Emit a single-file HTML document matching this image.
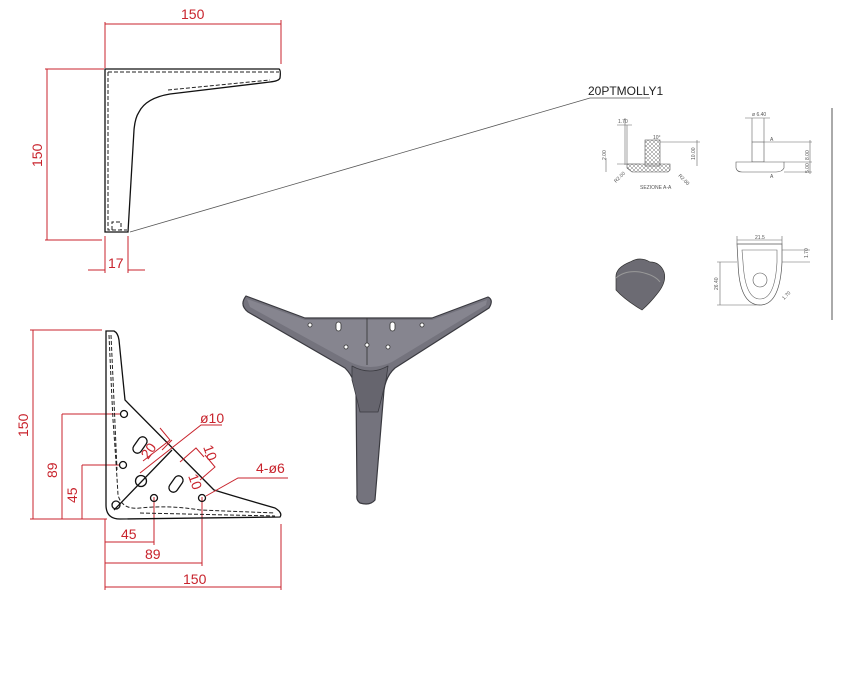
<!DOCTYPE html>
<html><head><meta charset="utf-8"><style>
html,body{margin:0;padding:0;background:#fff;}
svg{display:block;}
.r{stroke:#c8232c;stroke-width:1;fill:none;}
.rt{fill:#c8232c;font-family:"Liberation Sans",sans-serif;font-size:14px;}
.k{stroke:#111;stroke-width:1.3;fill:none;}
.d{stroke:#222;stroke-width:1;fill:none;stroke-dasharray:4 2;}
.s{font-family:"Liberation Sans",sans-serif;font-size:5px;fill:#555;}
.g{stroke:#666;stroke-width:0.6;fill:none;}
</style></head><body>
<svg width="845" height="678" viewBox="0 0 845 678" xmlns="http://www.w3.org/2000/svg">
<defs>
<pattern id="h" width="4" height="4" patternUnits="userSpaceOnUse"><path d="M0 0L4 4M4 0L0 4" stroke="#777" stroke-width="0.5"/></pattern>
</defs>
<!-- TOP VIEW -->
<g>
<line class="r" x1="105" y1="22" x2="105" y2="68"/>
<line class="r" x1="281" y1="20" x2="281" y2="64"/>
<line class="r" x1="105" y1="24" x2="281" y2="24"/>
<text class="rt" x="181" y="19">150</text>
<line class="r" x1="45" y1="69" x2="104" y2="69"/>
<line class="r" x1="45" y1="240" x2="102" y2="240"/>
<line class="r" x1="47" y1="69" x2="47" y2="240"/>
<text class="rt" transform="translate(42,167) rotate(-90)">150</text>
<line class="r" x1="105" y1="236" x2="105" y2="273"/>
<line class="r" x1="128" y1="236" x2="128" y2="273"/>
<line class="r" x1="88" y1="270" x2="105" y2="270"/>
<line class="r" x1="128" y1="270" x2="145" y2="270"/>
<text class="rt" x="108" y="268">17</text>
<path class="k" d="M105 69 L279 69 Q281 70 280 78 Q279 81 270 82 L170 94 Q146 98 139 112 Q135 118 134 130 L128 232 L105 232 Z"/>
<path class="d" d="M108 72 L279 72 M168 90 L270 80 M108 72 L108 230 L127 230"/>
<path class="d" d="M112 230 L112 222 L121 222 L121 230"/>
</g>
<!-- leader -->
<path d="M130 232 L590 98 L650 98" stroke="#555" stroke-width="0.8" fill="none"/>
<text x="588" y="95" font-family="Liberation Sans,sans-serif" font-size="12" fill="#222">20PTMOLLY1</text>
<!-- BOTTOM VIEW -->
<g>
<line class="r" x1="30" y1="330" x2="102" y2="330"/>
<line class="r" x1="30" y1="519" x2="107" y2="519"/>
<line class="r" x1="33" y1="330" x2="33" y2="519"/>
<text class="rt" transform="translate(28,437) rotate(-90)">150</text>
<line class="r" x1="62" y1="414" x2="120" y2="414"/>
<line class="r" x1="62" y1="414" x2="62" y2="519"/>
<text class="rt" transform="translate(57,478) rotate(-90)">89</text>
<line class="r" x1="82" y1="465" x2="120" y2="465"/>
<line class="r" x1="82" y1="465" x2="82" y2="519"/>
<text class="rt" transform="translate(77,503) rotate(-90)">45</text>
<line class="r" x1="105" y1="519" x2="105" y2="590"/>
<line class="r" x1="154" y1="497" x2="154" y2="545"/>
<line class="r" x1="202" y1="497" x2="202" y2="566"/>
<line class="r" x1="281" y1="524" x2="281" y2="590"/>
<line class="r" x1="105" y1="542" x2="154" y2="542"/>
<line class="r" x1="105" y1="563" x2="202" y2="563"/>
<line class="r" x1="105" y1="587" x2="281" y2="587"/>
<text class="rt" x="121" y="539">45</text>
<text class="rt" x="145" y="559">89</text>
<text class="rt" x="183" y="584">150</text>
<path class="k" d="M106 331 L114 331 Q118 333 119 340 L125 400 L214 490 Q240 498 275 508 Q283 513 280 517 L120 519 Q106 519 106 505 Z"/>
<path class="d" d="M109 335 Q111 380 113 420 Q116 460 118 495 Q122 510 140 508 Q170 505 200 510 L275 513"/>
<path class="d" d="M111 335 Q114 400 117 470 M140 513 L275 516"/>
<circle cx="124" cy="414" r="3.5" class="k"/>
<circle cx="123" cy="465" r="3.5" class="k"/>
<circle cx="141" cy="481" r="5.5" class="k"/>
<circle cx="154" cy="498" r="3.5" class="k"/>
<circle cx="202" cy="498" r="3.5" class="k"/>
<circle cx="116" cy="505" r="4" class="k"/>
<rect x="-9" y="-4.5" width="18" height="9" rx="4.5" class="k" transform="translate(140,445) rotate(-55)"/>
<rect x="-9" y="-4.5" width="18" height="9" rx="4.5" class="k" transform="translate(176,484) rotate(-55)"/>
<path class="k" d="M114 510 L172 450" stroke-width="1"/>
<path class="r" d="M140 473 L201 425 L222 425"/>
<text class="rt" x="200" y="423">ø10</text>
<path class="r" d="M143 461 L170 440 L160 428 M162 450 L172 440"/>
<text class="rt" transform="translate(148,460) rotate(-55)">20</text>
<path class="r" d="M180 462 L196 448 L204 457 M200 480 L215 467 L205 455"/>
<text class="rt" transform="translate(203,447) rotate(70)">10</text>
<text class="rt" transform="translate(188,476) rotate(70)">10</text>
<path class="r" d="M206 496 L238 478 L288 478"/>
<text class="rt" x="256" y="473">4-ø6</text>
</g>
<!-- 3D LEG -->
<g stroke="#3a3a40" stroke-width="1.2" stroke-linejoin="round">
<path fill="#74737d" d="M246 296 L305 318 L432 318 L488 297 Q494 300 489 308 L395 368 Q386 376 384 390 L375 500 Q370 506 360 503 Q356 500 357 495 L356 390 Q354 377 345 368 L248 312 Q239 305 246 296 Z"/>
<path fill="#86858f" d="M247 299 L305 320 L432 320 L487 300 L486 305 L392 362 Q370 372 350 362 L250 307 Z" stroke="none"/>
<path fill="#66656e" d="M352 366 Q370 376 388 366 L386 380 Q380 405 378 412 L360 412 Q356 395 352 380 Z" stroke-width="0.8"/>
</g>
<line x1="367" y1="318" x2="367" y2="365" stroke="#333" stroke-width="0.8"/>
<g fill="#fff" stroke="#333" stroke-width="0.8">
<rect x="336" y="322" width="5" height="9" rx="2.5"/>
<rect x="390" y="322" width="5" height="9" rx="2.5"/>
<circle cx="310" cy="325" r="2"/><circle cx="422" cy="325" r="2"/>
<circle cx="346" cy="347" r="2"/><circle cx="388" cy="347" r="2"/>
<circle cx="367" cy="345" r="2"/>
</g>
<!-- RIGHT PANEL -->
<line x1="832" y1="108" x2="832" y2="320" stroke="#555" stroke-width="1"/>
<g>
<rect x="645" y="140" width="15" height="26" fill="url(#h)" stroke="#555" stroke-width="0.6"/>
<path d="M627 164 L670 164 L670 170 L668 172 L632 172 L627 168 Z" fill="url(#h)" stroke="#555" stroke-width="0.6"/>
<path class="g" d="M625 118 L625 165 M627 125 L627 165 M617 125 L632 125 M660 142 L700 142 M617 164 L640 164 M697 140 L697 166 M606 158 L606 172"/>
<text class="s" x="618" y="123">1.70</text><text class="s" x="640" y="189">SEZIONE A-A</text>
<text class="s" x="653" y="139">10°</text>
<text class="s" transform="translate(606,160) rotate(-90)">2.00</text>
<text class="s" transform="translate(695,160) rotate(-90)">10.00</text>
<text class="s" transform="translate(616,183) rotate(-45)">R2.00</text>
<text class="s" transform="translate(678,176) rotate(45)">R2.00</text>
<rect x="752" y="142" width="12" height="20" fill="#fff" stroke="#555" stroke-width="0.6"/>
<path d="M736 162 L784 162 L784 168 Q782 172 776 172 L742 172 Q737 172 736 168 Z" fill="#fff" stroke="#555" stroke-width="0.6"/>
<path class="g" d="M752 118 L752 142 M764 118 L764 142 M745 118 L770 118 M764 142 L812 142 M784 162 L812 162 M784 172 L812 172 M810 140 L810 174"/>
<text class="s" x="752" y="116">ø 6.40</text>
<text class="s" x="770" y="141">A</text><text class="s" x="770" y="178">A</text>
<text class="s" transform="translate(809,160) rotate(-90)">8.00</text>
<text class="s" transform="translate(809,173) rotate(-90)">5.00</text>
<path d="M737 244 L782 244 L782 262 Q780 305 760 305 Q739 305 738 262 Z" fill="#fff" stroke="#555" stroke-width="0.7"/>
<path class="g" d="M742 250 L777 250 L777 262 Q775 299 760 299 Q745 299 743 262 Z"/>
<circle cx="760" cy="280" r="7" fill="none" stroke="#555" stroke-width="0.6"/>
<path class="g" d="M737 240 L782 240 M737 236 L737 244 M782 236 L782 244 M717 262 L737 262 M717 305 L760 305 M720 262 L720 305 M782 262 L810 262 M782 250 L810 250"/>
<text class="s" x="755" y="239">21.5</text>
<text class="s" transform="translate(718,290) rotate(-90)">26.40</text>
<text class="s" transform="translate(808,258) rotate(-90)">1.70</text>
<text class="s" transform="translate(784,300) rotate(-45)">1.70</text>
<path d="M616 278 Q615 268 630 262 Q640 256 650 262 Q660 262 664 272 Q667 282 657 294 Q650 303 642 310 Q625 300 616 290 Z" fill="#6c6b73" stroke="#333" stroke-width="0.7"/>
<path d="M616 278 Q625 270 640 272 Q655 275 660 282" fill="none" stroke="#999" stroke-width="1"/>
</g>
</svg>
</body></html>
